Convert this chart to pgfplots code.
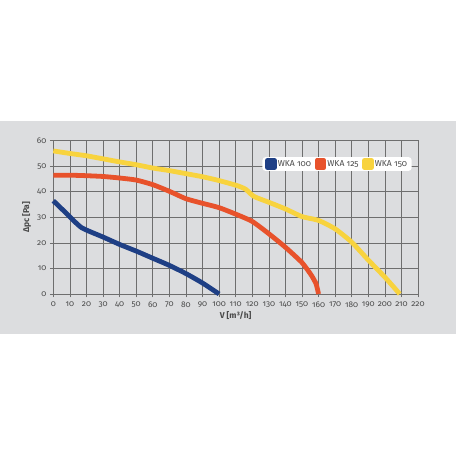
\documentclass[border=0pt]{standalone}
\usepackage{pgfplots}
\pgfplotsset{compat=1.18}
\usepackage{fontspec}
\setmainfont{Fira Sans}[Numbers=OldStyle]
\definecolor{bgband}{HTML}{DCDDDF}
\definecolor{gridc}{HTML}{6E6E6E}
\definecolor{txtc}{HTML}{4A4A4A}
\definecolor{wblue}{HTML}{1E3F85}
\definecolor{wred}{HTML}{E8522B}
\definecolor{wyel}{HTML}{F8D33E}
\begin{document}
\begin{tikzpicture}
\fill[white] (0bp,0bp) rectangle (456bp,456bp);
\fill[bgband] (0bp,122bp) rectangle (456bp,335bp);
\begin{axis}[
  at={(53.3bp,162bp)}, anchor=origin,
  scale only axis, width=364.7bp, height=153.3bp,
  xmin=0, xmax=220, ymin=0, ymax=60,
  xtick={0,10,...,220}, ytick={0,10,...,60},
  grid=major,
  major grid style={gridc, line width=0.6bp},
  axis line style={gridc, line width=0.8bp},
  tick style={gridc, line width=0.6bp},
  tick align=outside, major tick length=3.5bp,
  xtick pos=bottom, ytick pos=left,
  ticklabel style={font=\fontsize{8.3}{9}\selectfont, text=txtc},
  /pgf/number format/assume math mode=true,
  xticklabel style={yshift=-0.5bp},
  xlabel={\textbf{V [m³/h]}},
  ylabel={\textbf{Δpc [Pa]}},
  label style={font=\fontsize{8.5}{9}\selectfont, text=txtc},
  xlabel style={yshift=3bp},
  ylabel style={yshift=-1bp},
  clip=false,
  legend style={at={(0.983,0.848)}, anchor=east, draw=none, fill=white,
    rounded corners=3bp, font=\fontsize{8.6}{9}\selectfont, text=txtc,
    legend columns=3, inner xsep=2.5bp, inner ysep=1bp,
    /tikz/every even column/.append style={column sep=1.5bp},
    /tikz/every odd column/.append style={column sep=-1bp}},
  legend image code/.code={\fill[#1, sharp corners] (2bp,-3.5bp) rectangle (9bp,3.5bp);},
  every axis plot/.append style={line width=4.8bp, line join=round, line cap=butt, smooth, tension=0.35},
]
\addplot[wblue] coordinates {
(0,36.5) (8,31.5) (17,26) (30,22.3) (40,19.4) (50,16.8) (60,14) (70,11.2) (80,8) (90,4.3) (100,0)};
\addlegendentry{WKA 100}
\addplot[wred] coordinates {
(0,46.5) (10,46.5) (20,46.3) (30,46) (40,45.4) (50,44.6) (60,42.8) (70,40.2) (80,37.3) (90,35.5) (100,33.8) (111,31) (120,28.4) (130,23.6) (140,18.3) (150,12.3) (155.5,7.5) (158.5,4) (160,0)};
\addlegendentry{WKA 125}
\addplot[wyel] coordinates {
(0,56) (10,55) (20,54.1) (30,52.9) (40,51.7) (50,50.6) (60,49.3) (70,48.3) (80,47.1) (90,45.9) (100,44.4) (111,42.4) (116,41) (121,38.2) (130,35.9) (140,33.3) (150,30.3) (160,28.8) (170,25.5) (180,20.3) (190,13.3) (200,6.6) (209,0)};
\addlegendentry{WKA 150}
\end{axis}
\end{tikzpicture}
\end{document}
